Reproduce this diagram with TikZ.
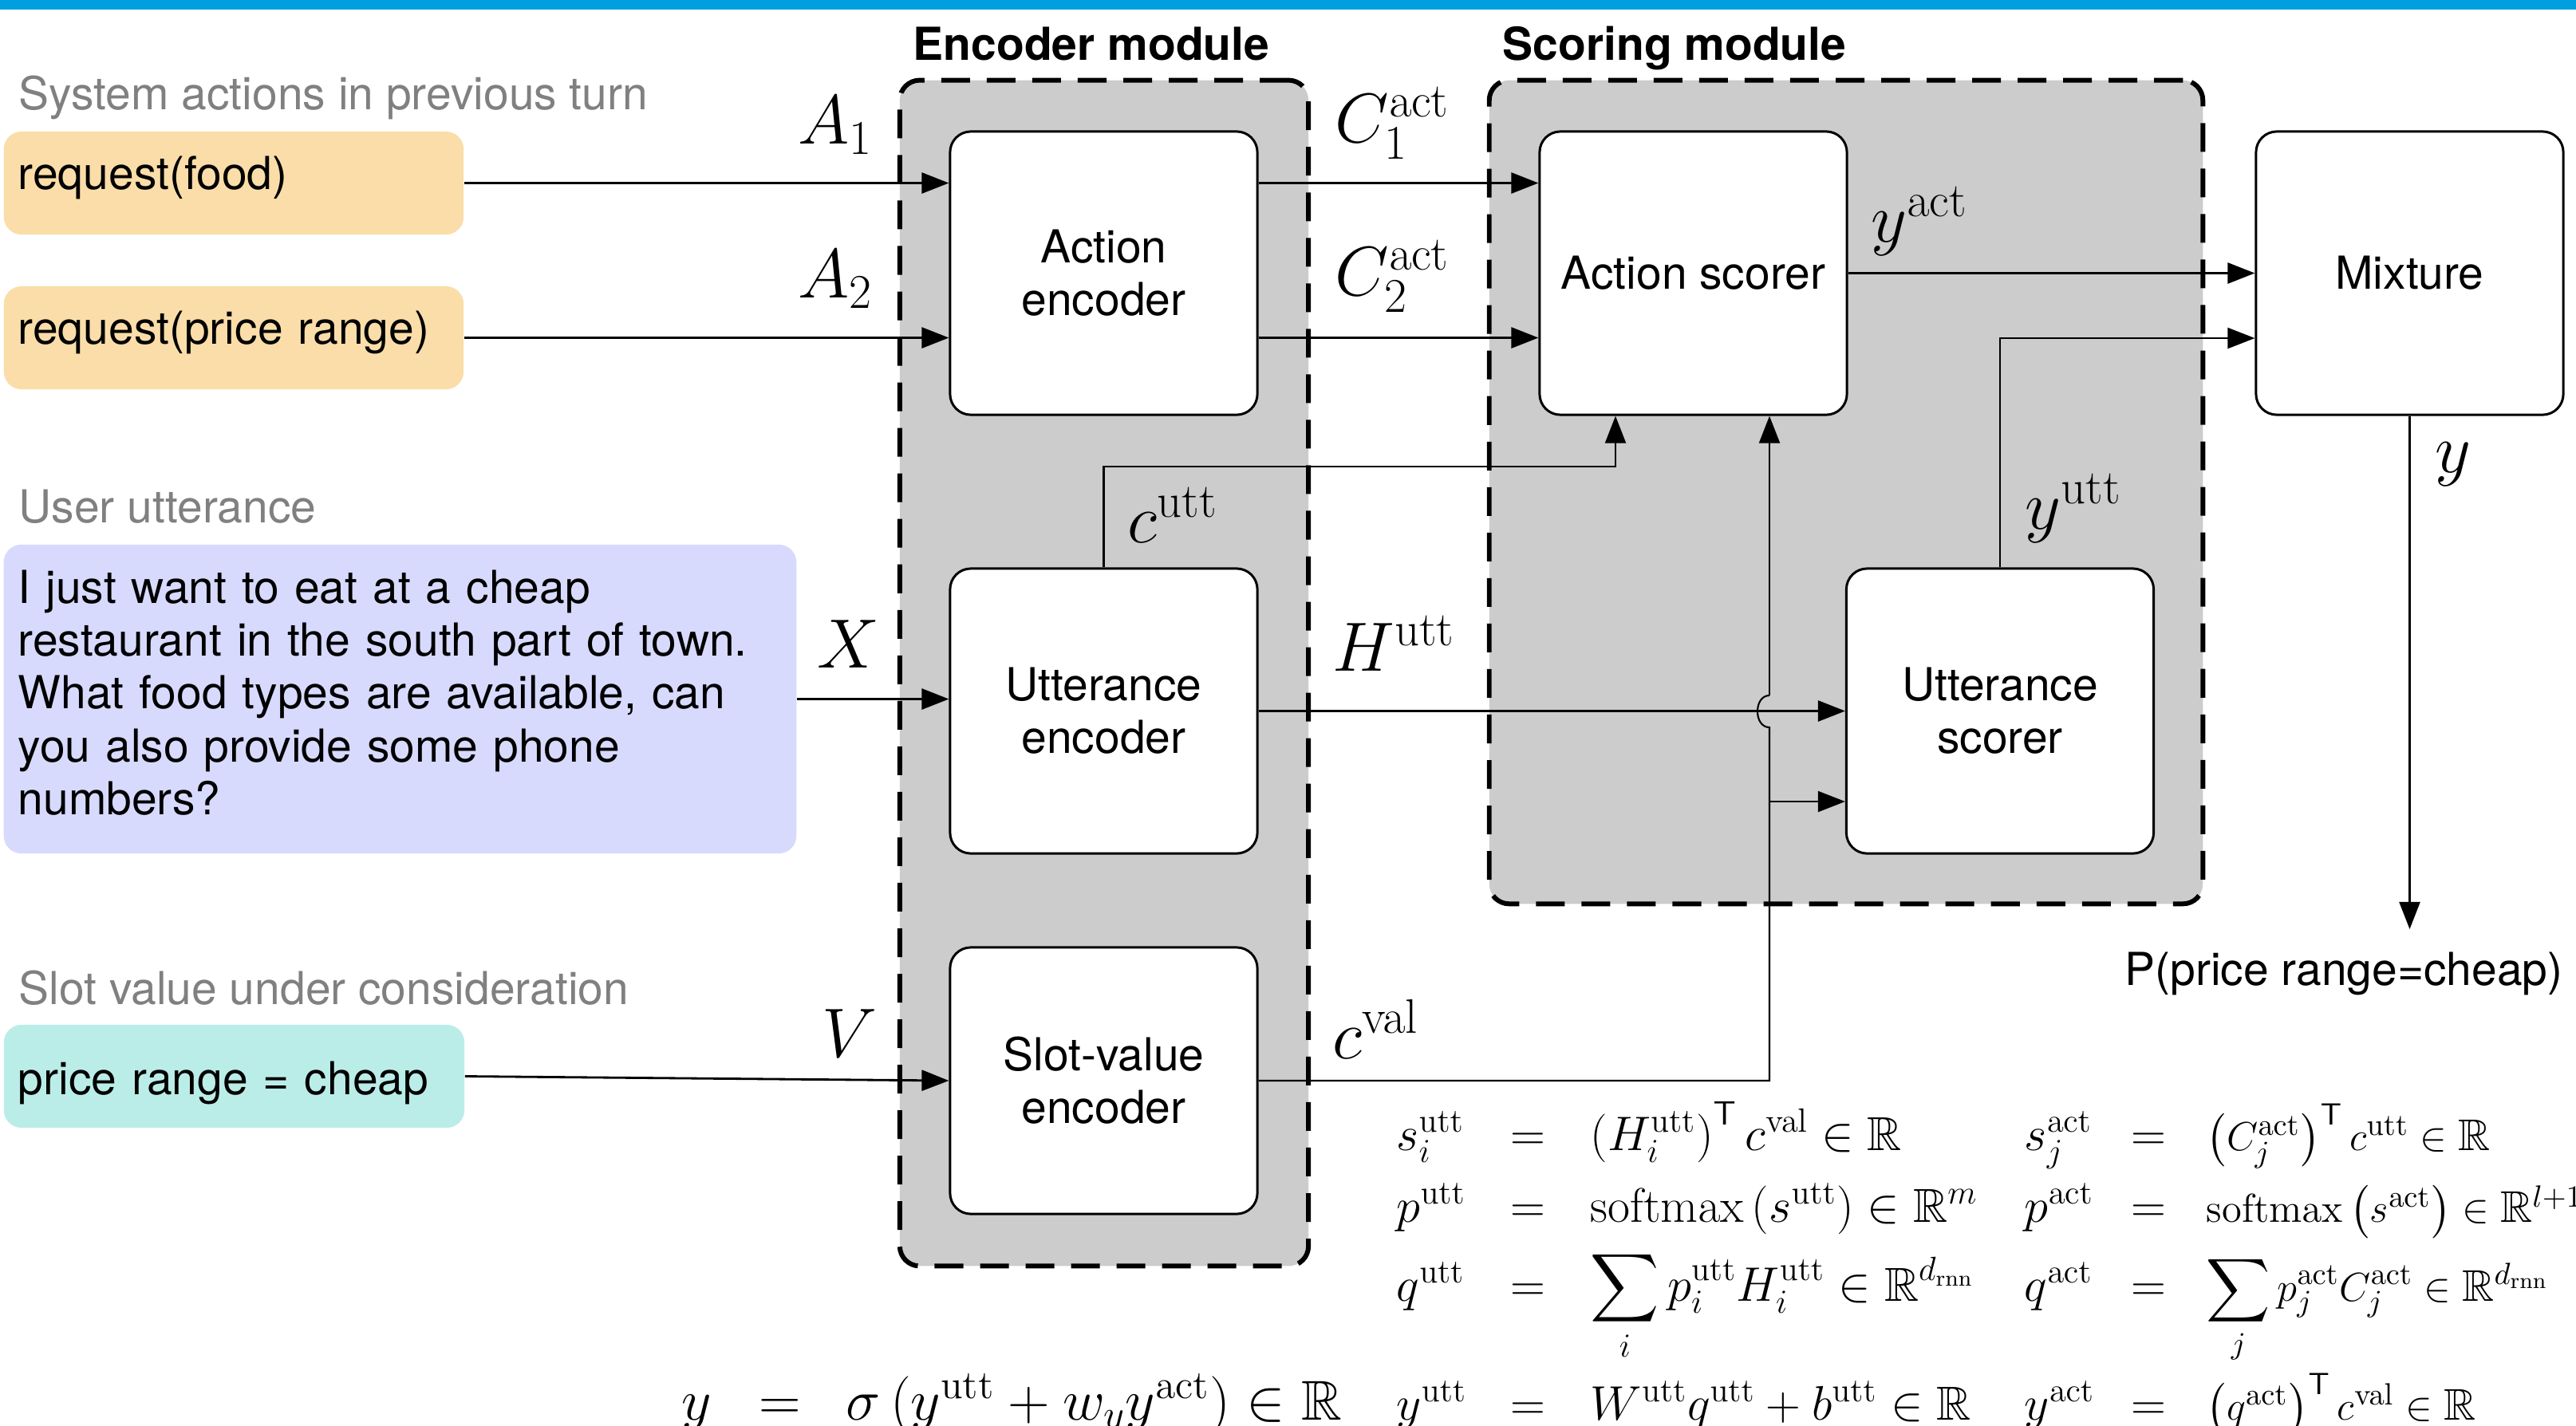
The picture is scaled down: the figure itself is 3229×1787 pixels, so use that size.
\documentclass[tikz,border=0pt]{standalone}
\usepackage[no-math]{fontspec}
\setmainfont{TeX Gyre Heros}
\usepackage{amsmath,amssymb}
\usetikzlibrary{arrows.meta}

\definecolor{topblue}{RGB}{0,160,224}
\definecolor{modgray}{RGB}{204,204,204}
\definecolor{labgray}{RGB}{128,128,128}
\definecolor{actfill}{RGB}{250,221,168}
\definecolor{uttfill}{RGB}{215,218,252}
\definecolor{valfill}{RGB}{187,237,232}
\newcommand{\txtfont}{\fontsize{16.2}{18.8}\selectfont}
\newcommand{\labfont}{\fontsize{24.2}{29}\selectfont}
\newcommand{\eqnfont}{\fontsize{17}{20}\selectfont}

\begin{document}
\begin{tikzpicture}[x=0.01cm, y=-0.01cm, >={Triangle[length=0.34cm,width=0.26cm]}]
\tikzstyle{every node}=[font=\txtfont];
\tikzstyle{block}=[draw, line width=0.85pt, fill=white, rounded corners=0.26cm, minimum width=3.85cm, align=center];
\tikzstyle{inbox}=[rounded corners=0.22cm, align=left, inner xsep=0.18cm, minimum height=1.29cm];
\tikzstyle{module}=[draw, line width=1.7pt, dash pattern=on 0.36cm off 0.21cm, fill=modgray, rounded corners=0.25cm];
\tikzstyle{title}=[font=\txtfont\bfseries, anchor=base];
\tikzstyle{section}=[text=labgray, anchor=base west, inner sep=0pt];
\tikzstyle{sym}=[font=\labfont, anchor=base west, inner sep=0pt];
\tikzstyle{eq}=[font=\eqnfont, anchor=base, inner sep=0pt];
\tikzstyle{wire}=[line width=0.8pt];
\tikzstyle{thinwire}=[line width=0.6pt];

\clip (0,0) rectangle (3229,1787);
\fill[white] (0,0) rectangle (3229,1787);
\fill[topblue] (0,0) rectangle (3229,12);

% modules
\node[module, minimum width=5.12cm, minimum height=14.86cm] (encm) at (1384,844) {};
\node[module, minimum width=8.94cm, minimum height=10.32cm] (scom) at (2314,617) {};
\node[title] (enct) at (1368,75) {Encoder module};
\node[title] (scot) at (2099,75) {Scoring module};

% inputs
\node[section] (sysl) at (23,137) {System actions in previous turn};
\node[section] (usrl) at (23,655) {User utterance};
\node[section] (slotl) at (23,1259) {Slot value under consideration};
\node[inbox, fill=actfill, text width=5.4cm, text height=0.43cm, text depth=0.28cm] (food) at (293,229.5) {request(food)};
\node[inbox, fill=actfill, text width=5.4cm, text height=0.43cm, text depth=0.28cm] (price) at (293,423.5) {request(price range)};
\node[inbox, fill=uttfill, text width=9.57cm, minimum height=3.87cm, text depth=2.81cm] (utter) at (501.5,876.5)
  {I just want to eat at a cheap\\restaurant in the south part of town.\\What food types are available, can\\you also provide some phone\\numbers?};
\node[inbox, fill=valfill, text width=5.41cm, text height=0.57cm, text depth=0.12cm] (slot) at (293.5,1349.5) {price range = cheap};

% blocks
\node[block, minimum height=3.55cm] (ae) at (1383.5,342.5) {Action\\encoder};
\node[block, minimum height=3.57cm] (ue) at (1383.5,891.5) {Utterance\\encoder};
\node[block, minimum height=3.34cm] (sve) at (1383.5,1355) {Slot-value\\encoder};
\node[block, minimum height=3.55cm] (as) at (2122.5,342.5) {Action scorer};
\node[block, minimum height=3.57cm] (us) at (2507,891.5) {Utterance\\scorer};
\node[block, minimum height=3.55cm] (mix) at (3020.5,342.5) {Mixture};
\node[anchor=base] (prob) at (2938,1235) {P(price range=cheap)};

\coordinate (cu) at (2025,585);
\coordinate (cv) at (2218,1355);
\coordinate (hopb) at (2218,912);
\coordinate (hopt) at (2218,872);
\coordinate (cvb) at (2218,1005);
\coordinate (yu) at (2507,424);
\coordinate (yend) at (3020.5,1165);

\draw[wire,->] (food.east) -- (food.east -| ae.west);
\draw[wire,->] (price.east) -- (price.east -| ae.west);
\draw[wire,->] (ae.east |- food.east) -- (as.west |- food.east);
\draw[wire,->] (ae.east |- price.east) -- (as.west |- price.east);
\draw[wire,->] (as.east) -- (mix.west);
\draw[wire,->] (utter.east) -- (utter.east -| ue.west);
\draw[wire,->] (ue.east) -- (us.west);
\draw[wire,->] (slot.east) -- (sve.west);
\draw[thinwire,->] (ue.north) |- (cu) -- (cu |- as.south);
\draw[thinwire] (sve.east) -- (cv) -- (hopb) .. controls (2198,912) and (2198,872) .. (hopt);
\draw[thinwire,->] (hopt) -- (hopt |- as.south);
\draw[thinwire,->] (cvb) -- (cvb -| us.west);
\draw[thinwire,->] (us.north) -- (yu) -- (yu -| mix.west);
\draw[thinwire,->] (mix.south) -- (yend);

% labels
\node[sym] (a1) at (1000,180) {$A_1$};
\node[sym] (a2) at (1000,373) {$A_2$};
\node[sym] (xl) at (1024,837) {$X$};
\node[sym] (vl) at (1030,1325) {$V$};
\node[sym] (c1) at (1673,178) {$C_1^{\mathrm{act}}$};
\node[sym] (c2) at (1673,370) {$C_2^{\mathrm{act}}$};
\node[sym] (yal) at (2345,303) {$y^{\mathrm{act}}$};
\node[sym] (cul) at (1413,680) {$c^{\mathrm{utt}}$};
\node[sym] (hl) at (1670,841) {$H^{\mathrm{utt}}$};
\node[sym] (yul) at (2538,663) {$y^{\mathrm{utt}}$};
\node[sym] (cvl) at (1670,1327) {$c^{\mathrm{val}}$};
\node[sym] (yl) at (3052,592) {$y$};

% equations
\foreach \y/\lhs/\rhs [count=\k] in {
  1442/{s_i^{\mathrm{utt}}}/{\left(H_i^{\mathrm{utt}}\right)^{\mathsf{T}} c^{\mathrm{val}} \in \mathbb{R}},
  1532/{p^{\mathrm{utt}}}/{\mathrm{softmax}\left(s^{\mathrm{utt}}\right) \in \mathbb{R}^m},
  1631/{q^{\mathrm{utt}}}/{\displaystyle\sum_i p_i^{\mathrm{utt}} H_i^{\mathrm{utt}} \in \mathbb{R}^{d_{\mathrm{rnn}}}},
  1780/{y^{\mathrm{utt}}}/{W^{\mathrm{utt}} q^{\mathrm{utt}} + b^{\mathrm{utt}} \in \mathbb{R}}}
{
  \node[eq, anchor=base west] (ul\k) at (1750,\y) {$\lhs$};
  \node[eq] (um\k) at (1915,\y) {$=$};
  \node[eq, anchor=base west] (ur\k) at (1993,\y) {$\rhs$};
}
\foreach \y/\lhs/\rhs [count=\k] in {
  1442/{s_j^{\mathrm{act}}}/{\left(C_j^{\mathrm{act}}\right)^{\mathsf{T}} c^{\mathrm{utt}} \in \mathbb{R}},
  1532/{p^{\mathrm{act}}}/{\mathrm{softmax}\left(s^{\mathrm{act}}\right) \in \mathbb{R}^{l+1}},
  1631/{q^{\mathrm{act}}}/{\displaystyle\sum_j p_j^{\mathrm{act}} C_j^{\mathrm{act}} \in \mathbb{R}^{d_{\mathrm{rnn}}}},
  1780/{y^{\mathrm{act}}}/{\left(q^{\mathrm{act}}\right)^{\mathsf{T}} c^{\mathrm{val}} \in \mathbb{R}}}
{
  \node[eq, font=\fontsize{16.6}{20}\selectfont, anchor=base west] (al\k) at (2537,\y) {$\lhs$};
  \node[eq] (am\k) at (2693,\y) {$=$};
  \node[eq, font=\fontsize{15.8}{19}\selectfont, anchor=base west] (ar\k) at (2765,\y) {$\rhs$};
}
\node[eq, font=\fontsize{20}{24}\selectfont, anchor=base west] (yl0) at (854,1780) {$y$};
\node[eq, font=\fontsize{20}{24}\selectfont] (ym0) at (978,1780) {$=$};
\node[eq, font=\fontsize{20}{24}\selectfont, anchor=base west] (yr0) at (1060,1780)
  {$\sigma\left(y^{\mathrm{utt}} + w_y y^{\mathrm{act}}\right) \in \mathbb{R}$};
\end{tikzpicture}
\end{document}
